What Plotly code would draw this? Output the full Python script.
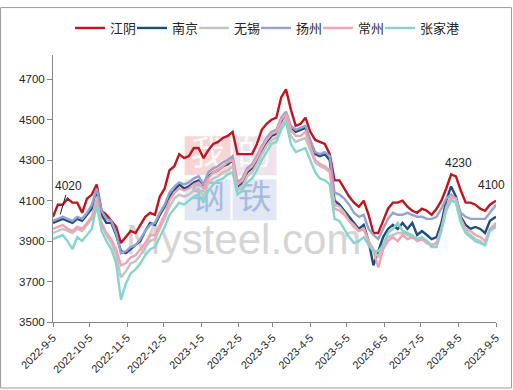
import plotly.graph_objects as go

dates = ["2022-09-05","2022-09-09","2022-09-13","2022-09-17","2022-09-21","2022-09-25","2022-09-29",
         "2022-10-03","2022-10-07","2022-10-11","2022-10-15","2022-10-19","2022-10-23","2022-10-27","2022-10-31",
         "2022-11-04","2022-11-08","2022-11-12","2022-11-16","2022-11-20","2022-11-24","2022-11-28",
         "2022-12-02","2022-12-06","2022-12-10","2022-12-14","2022-12-18","2022-12-22","2022-12-26","2022-12-30",
         "2023-01-03","2023-01-07","2023-01-11","2023-01-15","2023-01-19","2023-01-23","2023-01-27","2023-01-31",
         "2023-02-04","2023-02-08","2023-02-12","2023-02-16","2023-02-20","2023-02-24","2023-02-28",
         "2023-03-04","2023-03-08","2023-03-12","2023-03-16","2023-03-20","2023-03-24","2023-03-28",
         "2023-04-01","2023-04-05","2023-04-09","2023-04-13","2023-04-17","2023-04-21","2023-04-25","2023-04-29",
         "2023-05-03","2023-05-07","2023-05-11","2023-05-15","2023-05-19","2023-05-23","2023-05-27","2023-05-31",
         "2023-06-04","2023-06-08","2023-06-12","2023-06-16","2023-06-20","2023-06-24","2023-06-28",
         "2023-07-02","2023-07-06","2023-07-10","2023-07-14","2023-07-18","2023-07-22","2023-07-26","2023-07-30",
         "2023-08-03","2023-08-07","2023-08-11","2023-08-15","2023-08-19","2023-08-23","2023-08-27","2023-08-31",
         "2023-09-05"]

jiangyin = [4020,4080,4080,4110,4090,4090,4040,4110,4130,4180,
            4050,4030,4000,3970,3890,3920,3950,3940,3980,4020,
            4040,4030,4120,4160,4250,4270,4330,4310,4320,4360,
            4360,4310,4350,4380,4390,4410,4420,4440,4330,4330,
            4330,4330,4380,4450,4480,4500,4510,4610,4650,4550,
            4470,4480,4510,4440,4400,4390,4380,4330,4200,4200,
            4160,4120,4090,4070,4100,4030,3940,3940,4000,4060,
            4090,4090,4100,4070,4050,4040,4060,4050,4030,4060,
            4100,4160,4230,4220,4150,4090,4090,4080,4060,4050,
            4080,4100]

nanjing = [3990,4000,4010,4000,3990,4010,4000,4030,4060,4150,
           4030,3990,3990,3930,3850,3840,3860,3880,3900,3950,
           3990,3980,4030,4070,4120,4150,4180,4160,4170,4190,
           4200,4160,4220,4240,4250,4270,4280,4300,4170,4190,
           4240,4260,4300,4350,4390,4420,4430,4490,4530,4460,
           4440,4450,4460,4390,4330,4320,4330,4300,4100,4080,
           4050,4020,3990,3960,3980,3900,3780,3850,3920,3960,
           3980,3960,3990,3960,3990,3930,3950,3930,3910,3920,
           3990,4100,4170,4120,4020,3980,3960,3970,3960,3940,
           4000,4020]

wuxi = [3940,3950,3960,3950,3940,3960,3950,3980,4010,4120,
        3980,3930,3890,3830,3720,3750,3790,3800,3830,3870,
        3900,3910,3960,4010,4070,4110,4130,4120,4130,4150,
        4160,4120,4190,4210,4220,4240,4250,4270,4150,4170,
        4220,4240,4280,4330,4370,4400,4410,4470,4510,4420,
        4390,4400,4410,4350,4290,4270,4260,4240,4080,4070,
        4040,4000,3980,3950,3960,3900,3860,3820,3880,3920,
        3930,3940,3940,3930,3920,3910,3910,3900,3880,3890,
        3960,4060,4110,4090,4000,3950,3930,3910,3900,3880,
        3960,3990]

yangzhou = [4000,4010,4020,4010,4000,4020,4010,4040,4080,4160,
            4050,4010,4000,3940,3840,3850,3870,3880,3910,3950,
            3980,3990,4040,4080,4140,4170,4190,4180,4190,4210,
            4220,4180,4240,4260,4270,4290,4300,4320,4190,4210,
            4260,4280,4320,4370,4410,4440,4450,4510,4540,4470,
            4450,4460,4470,4400,4340,4330,4340,4320,4140,4130,
            4110,4080,4040,4020,4030,3960,3930,3910,3960,4010,
            4040,4030,4030,4040,4030,4020,4020,4010,4010,4020,
            4060,4110,4130,4110,4040,4020,4010,4010,4010,4010,
            4040,4080]

changzhou = [3960,3970,3980,3960,3950,3970,3960,3990,4020,4100,
             3990,3940,3910,3860,3780,3790,3820,3830,3860,3890,
             3930,3930,3980,4030,4100,4140,4160,4150,4160,4180,
             4190,4160,4210,4240,4250,4270,4290,4300,4180,4200,
             4250,4270,4310,4360,4400,4430,4440,4500,4530,4450,
             4420,4420,4440,4370,4300,4280,4270,4250,4060,4050,
             4030,4000,3970,3950,3960,3900,3850,3770,3860,3900,
             3920,3900,3930,3910,3920,3900,3910,3890,3880,3890,
             3960,4070,4120,4110,4010,3960,3950,3930,3920,3900,
             3960,3980]

zhangjiagang = [3910,3920,3930,3900,3860,3920,3900,3930,3960,4080,
                3950,3900,3860,3790,3610,3690,3740,3760,3790,3830,
                3860,3870,3920,3970,4030,4060,4090,4080,4100,4120,
                4130,4090,4150,4180,4200,4210,4230,4240,4130,4150,
                4190,4210,4250,4300,4340,4380,4390,4450,4490,4380,
                4340,4350,4360,4300,4240,4210,4200,4180,4010,4000,
                3960,3920,3890,3900,3920,3880,3850,3850,3880,3940,
                3960,3990,3950,3940,3930,3910,3920,3900,3870,3870,
                3950,4050,4100,4090,3990,3940,3920,3900,3890,3880,
                3950,3970]

series_names = ["江阴", "南京", "无锡", "扬州", "常州", "张家港"]
series_values = [jiangyin, nanjing, wuxi, yangzhou, changzhou, zhangjiagang]
series_colors = ["#C0141E", "#1F4E79", "#C3C3C3", "#94A3CF", "#F2A2B1", "#86D4CE"]

x_tick_vals = ["2022-09-05","2022-10-05","2022-11-05","2022-12-05","2023-01-05","2023-02-05","2023-03-05",
               "2023-04-05","2023-05-05","2023-06-05","2023-07-05","2023-08-05","2023-09-05"]
x_tick_text = ["2022-9-5","2022-10-5","2022-11-5","2022-12-5","2023-1-5","2023-2-5","2023-3-5",
               "2023-4-5","2023-5-5","2023-6-5","2023-7-5","2023-8-5","2023-9-5"]
y_tick_vals = [3500, 3700, 3900, 4100, 4300, 4500, 4700]

fig = go.Figure()
for name, vals, color in zip(series_names, series_values, series_colors):
    fig.add_trace(go.Scatter(x=dates, y=vals, name=name, mode="lines",
                             line=dict(color=color, width=2.4)))
# empty legend spacer so the last legend label is not clipped (no data, no mark)
fig.add_trace(go.Scatter(x=[None], y=[None], name=" ", mode="lines",
                         line=dict(width=0, color="rgba(0,0,0,0)"), hoverinfo="skip"))

# watermark (decorative, drawn below the data)
def pbox(x0, x1, y0, y1):
    W, H, L, T = 444.0, 273.0, 53.0, 49.0
    return dict(x0=(x0 - L) / W, x1=(x1 - L) / W, y0=(T + H - y1) / H, y1=(T + H - y0) / H)

shapes = []
wm = [
    (185, 231, 132, 172, "rgba(236,150,150,0.40)", "我", "rgba(255,255,255,0.9)"),
    (233, 277, 132, 172, "rgba(214,186,206,0.40)", "的", "rgba(255,255,255,0.9)"),
    (185, 231, 176, 218, "rgba(196,210,234,0.50)", "钢", "rgba(150,172,212,0.75)"),
    (233, 277, 176, 218, "rgba(196,210,234,0.50)", "铁", "rgba(150,172,212,0.75)"),
]
for x0, x1, y0, y1, fill, ch, tcol in wm:
    b = pbox(x0, x1, y0, y1)
    shapes.append(dict(type="rect", xref="paper", yref="paper", layer="below",
                       fillcolor=fill, line=dict(width=0), **b,
                       label=dict(text=ch, font=dict(family="Noto Sans CJK SC", size=34, color=tcol),
                                  textposition="middle center")))
b = pbox(136, 352, 210, 258)
shapes.append(dict(type="rect", xref="paper", yref="paper", layer="below",
                   fillcolor="rgba(0,0,0,0)", line=dict(width=0), **b,
                   label=dict(text="Mysteel.com",
                              font=dict(family="Liberation Sans, Arial, sans-serif", size=42,
                                        color="rgba(200,200,200,0.75)"),
                              textposition="middle center")))
# outer border
shapes.append(dict(type="rect", xref="paper", yref="paper", layer="above",
                   x0=(0.5 - 53) / 444, x1=(512.5 - 53) / 444,
                   y0=(322 - 389.5) / 273, y1=(322 - 0.5) / 273,
                   line=dict(color="#9A9A9A", width=1), fillcolor="rgba(0,0,0,0)"))

fig.update_layout(
    width=513, height=390,
    margin=dict(l=53, r=16, t=49, b=68, pad=0),
    paper_bgcolor="white", plot_bgcolor="white",
    font=dict(family="Liberation Sans, Arial, sans-serif", size=11, color="#262626"),
    showlegend=True,
    legend=dict(orientation="h", xref="container", yref="container",
                x=70 / 513, xanchor="left", y=(390 - 28) / 390, yanchor="middle",
                font=dict(family="Noto Sans CJK SC", size=13, color="#262626"),
                entrywidth=17, bgcolor="rgba(0,0,0,0)", borderwidth=0),
    shapes=shapes,
    xaxis=dict(type="date", range=["2022-09-05", "2023-09-05"],
               tickvals=x_tick_vals, ticktext=x_tick_text, tickangle=-45,
               ticks="outside", ticklen=4, tickcolor="#868686",
               showline=True, linecolor="#868686", linewidth=1,
               showgrid=False, zeroline=False,
               tickfont=dict(size=11, color="#262626")),
    yaxis=dict(range=[3500, 4820], tickvals=y_tick_vals,
               ticks="outside", ticklen=5, tickcolor="#868686",
               showline=True, linecolor="#868686", linewidth=1,
               showgrid=False, zeroline=False,
               tickfont=dict(size=11.5, color="#262626")),
    annotations=[
        dict(x="2022-09-11", y=4032, text="4020", showarrow=True, arrowhead=0, arrowwidth=1,
             arrowcolor="#262626", ax=8, ay=-28, font=dict(size=12, color="#262626")),
        dict(x="2023-08-05", y=4288, text="4230", showarrow=False,
             font=dict(size=12, color="#262626")),
        dict(x="2023-09-01", y=4177, text="4100", showarrow=False,
             font=dict(size=12, color="#262626")),
    ],
)

fig.write_html("out.html", config={"displayModeBar": False},
               post_script="document.body.style.margin='0px';document.body.style.overflow='hidden';")
